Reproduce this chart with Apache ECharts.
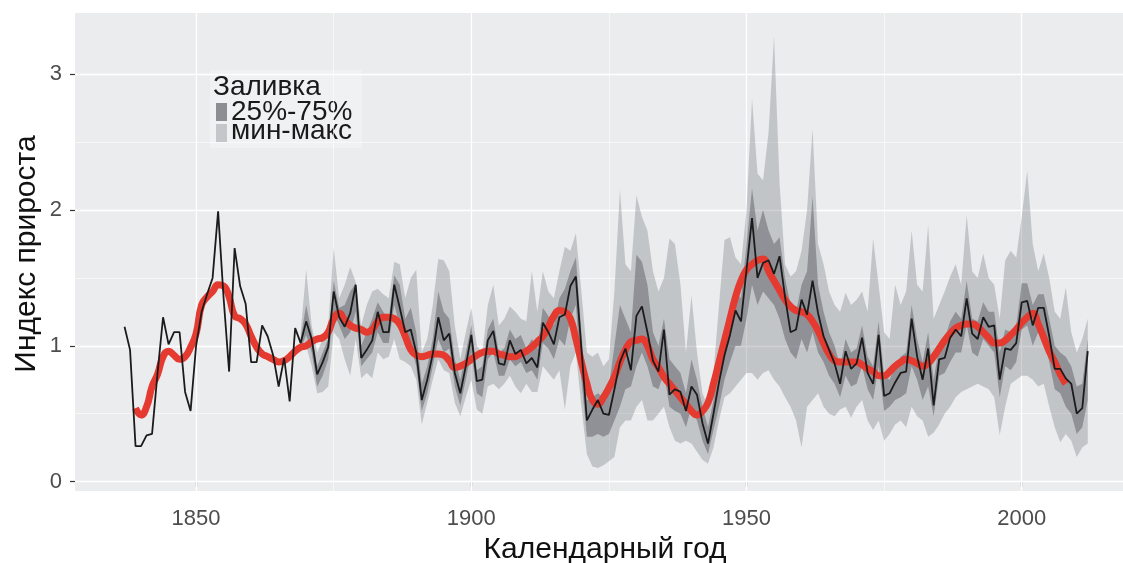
<!DOCTYPE html>
<html>
<head>
	<meta charset="utf-8">
	<title>Индекс прироста</title>
	<script src="https://cdn.jsdelivr.net/npm/echarts@6/dist/echarts.min.js"></script>
</head>
<body style="margin:0">
	<div id="main" style="width: 1123px;height: 563px"></div>
	<script type="text/javascript">
		// средний индекс прироста, 1837-2012
		var meanStart = 1837;
		var meanIdx = [
			1.14, 0.97, 0.26, 0.26, 0.34, 0.35, 0.80, 1.21, 1.01, 1.10,
			1.10, 0.66, 0.52, 1.00, 1.25, 1.38, 1.50, 1.99, 1.35, 0.81,
			1.72, 1.44, 1.31, 0.88, 0.88, 1.15, 1.07, 0.93, 0.70, 0.91,
			0.59, 1.13, 1.02, 1.18, 1.05, 0.79, 0.88, 0.99, 1.40, 1.21,
			1.14, 1.24, 1.45, 0.91, 0.97, 1.04, 1.25, 1.10, 1.10, 1.45,
			1.28, 1.10, 1.12, 0.95, 0.60, 0.75, 0.94, 1.21, 1.04, 1.09,
			0.80, 0.65, 0.85, 1.08, 0.74, 0.75, 1.04, 1.11, 0.87, 0.86,
			1.04, 0.94, 0.97, 0.87, 0.91, 0.84, 1.17, 1.10, 1.01, 1.21,
			1.23, 1.44, 1.51, 0.98, 0.45, 0.53, 0.60, 0.50, 0.49, 0.68,
			0.88, 0.98, 0.82, 1.22, 1.29, 1.10, 0.89, 0.81, 1.12, 0.64,
			0.68, 0.66, 0.52, 0.70, 0.64, 0.43, 0.28, 0.50, 0.73, 0.93,
			1.08, 1.26, 1.18, 1.56, 1.94, 1.50, 1.61, 1.63, 1.53, 1.66,
			1.36, 1.10, 1.12, 1.34, 1.23, 1.48, 1.24, 1.07, 0.97, 0.87,
			0.72, 0.96, 0.83, 0.87, 1.06, 0.80, 0.72, 1.08, 0.63, 0.65,
			0.73, 0.80, 0.81, 1.20, 0.92, 0.75, 0.98, 0.56, 0.90, 0.91,
			1.06, 1.12, 1.07, 1.35, 1.09, 1.05, 1.21, 1.14, 1.15, 0.75,
			0.98, 0.97, 1.02, 1.32, 1.33, 1.15, 1.28, 1.28, 1.07, 0.83,
			0.83, 0.76, 0.72, 0.50, 0.54, 0.96
		];
		// сглаженная кривая, 1839-2008
		var smoothStart = 1839;
		var smoothIdx = [
			0.54, 0.49, 0.55, 0.70, 0.79, 0.92, 0.96, 0.93, 0.90, 0.92,
			0.99, 1.09, 1.30, 1.36, 1.40, 1.45, 1.44, 1.36, 1.22, 1.20,
			1.16, 1.07, 0.99, 0.94, 0.92, 0.90, 0.88, 0.89, 0.92, 0.96,
			0.99, 1.00, 1.03, 1.05, 1.06, 1.10, 1.20, 1.24, 1.19, 1.15,
			1.13, 1.12, 1.10, 1.12, 1.18, 1.21, 1.21, 1.20, 1.16, 1.07,
			0.97, 0.93, 0.92, 0.93, 0.94, 0.94, 0.93, 0.89, 0.84, 0.85,
			0.87, 0.90, 0.93, 0.95, 0.96, 0.96, 0.94, 0.93, 0.92, 0.92,
			0.94, 0.96, 0.99, 1.03, 1.07, 1.14, 1.22, 1.26, 1.25, 1.20,
			1.05, 0.88, 0.72, 0.60, 0.57, 0.62, 0.69, 0.77, 0.88, 0.97,
			1.03, 1.04, 1.05, 1.00, 0.90, 0.84, 0.77, 0.72, 0.67, 0.62,
			0.57, 0.52, 0.49, 0.52, 0.58, 0.72, 0.88, 1.04, 1.20, 1.36,
			1.48, 1.56, 1.60, 1.63, 1.64, 1.55, 1.48, 1.41, 1.34, 1.29,
			1.26, 1.25, 1.23, 1.18, 1.11, 1.02, 0.94, 0.89, 0.88, 0.88,
			0.88, 0.88, 0.86, 0.83, 0.81, 0.78, 0.78, 0.81, 0.85, 0.88,
			0.90, 0.89, 0.87, 0.85, 0.87, 0.92, 0.98, 1.04, 1.09, 1.13,
			1.15, 1.16, 1.16, 1.14, 1.10, 1.06, 1.02, 1.02, 1.04, 1.08,
			1.12, 1.17, 1.21, 1.24, 1.16, 1.06, 0.96, 0.88, 0.79, 0.72
		];
		// разброс по деревьям, 1869-2012
		var bandStart = 1869;
		var bandMax = [
			1.10, 1.56, 1.15, 0.95, 1.05, 1.15, 1.72, 1.35, 1.45, 1.58,
			1.47, 1.15, 1.30, 1.40, 1.42, 1.38, 1.35, 1.62, 1.60, 1.35,
			1.50, 1.56, 0.95, 1.05, 1.30, 1.64, 1.63, 1.55, 1.15, 0.90,
			1.10, 1.28, 1.00, 0.95, 1.30, 1.45, 1.15, 1.20, 1.29, 1.25,
			1.20, 1.18, 1.55, 1.25, 1.55, 1.40, 1.35, 1.55, 1.73, 1.70,
			1.83, 1.40, 0.95, 0.92, 0.95, 0.85, 0.90, 1.40, 2.15, 1.60,
			1.55, 2.11, 1.95, 1.85, 1.55, 1.40, 1.50, 1.79, 1.75, 1.45,
			0.95, 1.37, 0.95, 0.65, 0.55, 0.80, 1.30, 1.78, 1.80, 1.65,
			1.60, 2.00, 2.82, 2.27, 2.22, 2.57, 3.28, 2.20, 1.60, 1.51,
			1.55, 1.70, 2.00, 2.60, 1.75, 1.60, 1.40, 1.30, 1.25, 1.39,
			1.30, 1.34, 1.40, 1.25, 1.79, 1.45, 1.10, 1.05, 1.45, 1.30,
			1.40, 1.85, 1.45, 1.40, 1.89, 1.20, 1.30, 1.40, 1.51, 1.60,
			1.45, 1.96, 1.55, 1.50, 1.68, 1.50, 1.45, 1.20, 1.63, 1.70,
			1.65, 1.95, 2.29, 1.75, 1.55, 1.68, 1.50, 1.25, 1.20, 1.43,
			1.10, 0.95, 1.05, 1.20
		];
		var bandQ75 = [
			1.06, 1.30, 1.10, 0.85, 0.95, 1.05, 1.48, 1.28, 1.30, 1.40,
			1.46, 1.00, 1.10, 1.20, 1.32, 1.25, 1.20, 1.52, 1.45, 1.20,
			1.28, 1.10, 0.72, 0.85, 1.05, 1.40, 1.25, 1.20, 0.90, 0.75,
			0.95, 1.15, 0.82, 0.85, 1.12, 1.20, 0.95, 0.98, 1.12, 1.05,
			1.08, 0.98, 1.05, 0.98, 1.28, 1.22, 1.15, 1.35, 1.42, 1.55,
			1.65, 1.10, 0.60, 0.62, 0.65, 0.62, 0.70, 1.00, 1.30, 1.20,
			1.10, 1.67, 1.62, 1.45, 1.10, 1.00, 1.20, 0.90, 0.85, 0.80,
			0.65, 0.90, 0.75, 0.55, 0.40, 0.60, 0.90, 1.10, 1.25, 1.40,
			1.35, 1.75, 2.16, 1.85, 2.00, 1.85, 1.75, 1.80, 1.50, 1.30,
			1.25, 1.45, 1.55, 2.10, 1.45, 1.25, 1.10, 1.00, 0.85, 1.05,
			0.95, 0.98, 1.15, 0.92, 0.85, 1.18, 0.78, 0.75, 0.85, 0.92,
			0.95, 1.30, 1.05, 0.88, 1.10, 0.75, 1.00, 1.05, 1.18, 1.25,
			1.20, 1.48, 1.20, 1.18, 1.32, 1.25, 1.25, 0.95, 1.12, 1.10,
			1.15, 1.46, 1.46, 1.30, 1.38, 1.38, 1.20, 1.00, 0.95, 0.92,
			0.85, 0.70, 0.72, 1.05
		];
		var bandQ25 = [
			0.98, 1.08, 0.95, 0.70, 0.78, 0.90, 1.25, 1.15, 1.05, 1.10,
			1.25, 0.85, 0.90, 0.95, 1.10, 1.02, 1.02, 1.30, 1.15, 1.00,
			1.00, 0.85, 0.52, 0.65, 0.85, 1.05, 0.95, 0.98, 0.70, 0.56,
			0.75, 0.95, 0.65, 0.62, 0.90, 0.95, 0.78, 0.78, 0.90, 0.85,
			0.88, 0.80, 0.82, 0.75, 1.02, 0.98, 0.90, 1.05, 1.00, 1.20,
			1.30, 0.75, 0.33, 0.33, 0.35, 0.33, 0.35, 0.45, 0.55, 0.68,
			0.70, 0.85, 0.95, 0.85, 0.70, 0.68, 0.80, 0.55, 0.52, 0.50,
			0.40, 0.55, 0.45, 0.30, 0.20, 0.38, 0.55, 0.75, 0.88, 1.00,
			1.00, 1.20, 1.45, 1.30, 1.40, 1.35, 1.30, 1.20, 1.05, 0.95,
			0.90, 1.05, 0.95, 1.10, 0.95, 0.88, 0.78, 0.72, 0.62, 0.78,
			0.70, 0.72, 0.85, 0.68, 0.60, 0.85, 0.52, 0.55, 0.60, 0.62,
			0.65, 0.85, 0.75, 0.60, 0.70, 0.48, 0.78, 0.80, 0.88, 0.95,
			0.95, 1.15, 0.95, 0.92, 1.05, 1.00, 0.95, 0.62, 0.85, 0.82,
			0.88, 1.12, 1.15, 1.00, 1.10, 1.05, 0.88, 0.68, 0.65, 0.55,
			0.50, 0.35, 0.40, 0.60
		];
		var bandMin = [
			0.95, 1.00, 0.85, 0.65, 0.66, 0.70, 1.10, 1.05, 0.90, 0.78,
			1.05, 0.76, 0.80, 0.76, 0.95, 0.90, 0.92, 1.05, 0.90, 0.88,
			0.85, 0.75, 0.42, 0.58, 0.75, 0.90, 0.82, 0.80, 0.58, 0.48,
			0.62, 0.75, 0.53, 0.50, 0.70, 0.72, 0.68, 0.72, 0.78, 0.70,
			0.65, 0.72, 0.66, 0.66, 0.85, 0.80, 0.75, 0.82, 0.53, 0.85,
			0.95, 0.55, 0.20, 0.11, 0.10, 0.12, 0.15, 0.18, 0.40, 0.45,
			0.45, 0.55, 0.60, 0.45, 0.45, 0.50, 0.55, 0.40, 0.30, 0.28,
			0.30, 0.28, 0.22, 0.16, 0.13, 0.25, 0.45, 0.62, 0.65, 0.70,
			0.75, 0.80, 0.80, 0.75, 0.80, 0.82, 0.75, 0.70, 0.62, 0.55,
			0.45, 0.25, 0.55, 0.60, 0.65, 0.55, 0.50, 0.48, 0.53, 0.55,
			0.47, 0.55, 0.60, 0.45, 0.38, 0.45, 0.30, 0.35, 0.42, 0.45,
			0.40, 0.55, 0.48, 0.45, 0.33, 0.36, 0.42, 0.50, 0.55, 0.62,
			0.66, 0.68, 0.70, 0.72, 0.70, 0.68, 0.62, 0.34, 0.55, 0.72,
			0.75, 0.78, 0.78, 0.75, 0.70, 0.72, 0.55, 0.40, 0.29, 0.35,
			0.30, 0.18, 0.25, 0.28
		];
		var xTicks = [1850, 1900, 1950, 2000];
		var xMinor = [1875, 1925, 1975];
		var yTicks = [0, 1, 2, 3];
		var yMinor = [0.5, 1.5, 2.5];

		var font = '"Liberation Sans", Arial, sans-serif';
		var lightFill = 'rgba(130,133,140,0.38)';
		var darkFill = 'rgba(85,88,95,0.47)';

		function pairs(start, vals) {
			return vals.map(function (v, i) { return [start + i, v]; });
		}
		function triples(start, lo, hi) {
			return lo.map(function (v, i) { return [start + i, v, hi[i]]; });
		}
		// полоса рисуется одним многоугольником: верх слева направо, низ обратно
		function bandRenderer(fill) {
			return function (params, api) {
				if (params.dataIndex !== 0) return;
				var data = params.context.rows;
				var top = [], bottom = [];
				for (var i = 0; i < data.length; i++) {
					top.push(api.coord([data[i][0], data[i][2]]));
					bottom.push(api.coord([data[i][0], data[i][1]]));
				}
				return {
					type: 'polygon',
					shape: {points: top.concat(bottom.reverse())},
					style: {fill: fill}
				};
			};
		}
		function bandSeries(name, rows, fill) {
			var render = bandRenderer(fill);
			return {
				name: name, type: 'custom', silent: true, z: 3,
				encode: {x: 0, y: [1, 2]},
				data: rows,
				renderItem: function (params, api) {
					params.context.rows = rows;
					return render(params, api);
				}
			};
		}

		var gridLines = [];
		xTicks.forEach(function (v) { gridLines.push({xAxis: v, lineStyle: {width: 1.3}}); });
		xMinor.forEach(function (v) { gridLines.push({xAxis: v, lineStyle: {width: 0.6}}); });
		yTicks.forEach(function (v) { gridLines.push({yAxis: v, lineStyle: {width: 1.3}}); });
		yMinor.forEach(function (v) { gridLines.push({yAxis: v, lineStyle: {width: 0.6}}); });

		var myChart = echarts.init(document.getElementById('main'));
		var option = {
			backgroundColor: '#ffffff',
			animation: false,
			grid: {
				left: 75, right: 0, top: 13, bottom: 72,
				show: true, backgroundColor: '#EBECEE', borderWidth: 0
			},
			xAxis: {
				type: 'value', min: 1828, max: 2018.4,
				axisLine: {show: false},
				splitLine: {show: false},
				axisTick: {show: true, customValues: xTicks, length: 5, lineStyle: {color: '#333', width: 1.2}},
				axisLabel: {
					customValues: xTicks, margin: 17, color: '#4d4d4d', fontSize: 22, fontFamily: font,
					formatter: function (v) { return String(v); }
				}
			},
			yAxis: {
				type: 'value', min: -0.07, max: 3.452,
				axisLine: {show: false},
				splitLine: {show: false},
				axisTick: {show: true, customValues: yTicks, length: 5, lineStyle: {color: '#333', width: 1.2}},
				axisLabel: {customValues: yTicks, margin: 13, color: '#4d4d4d', fontSize: 22, fontFamily: font}
			},
			graphic: [
				{type: 'text', x: 605, y: 550, style: {text: 'Календарный год', font: '30px ' + font, fill: '#111', align: 'center', verticalAlign: 'middle'}},
				{type: 'text', x: 27, y: 254, rotation: Math.PI / 2, style: {text: 'Индекс прироста', font: '30px ' + font, fill: '#111', align: 'center', verticalAlign: 'middle'}},
				{type: 'rect', shape: {x: 210, y: 70, width: 152, height: 78}, style: {fill: 'rgba(255,255,255,0.25)'}},
				{type: 'text', x: 213, y: 87, style: {text: 'Заливка', font: '28px ' + font, fill: '#1a1a1a', verticalAlign: 'middle'}},
				{type: 'rect', shape: {x: 216, y: 103, width: 11, height: 18}, style: {fill: '#8c8e93'}},
				{type: 'rect', shape: {x: 216, y: 124, width: 11, height: 18}, style: {fill: '#c4c6ca'}},
				{type: 'text', x: 231, y: 112, style: {text: '25%-75%', font: '28px ' + font, fill: '#1a1a1a', verticalAlign: 'middle'}},
				{type: 'text', x: 231, y: 131, style: {text: 'мин-макс', font: '28px ' + font, fill: '#1a1a1a', verticalAlign: 'middle'}}
			],
			series: [
				{
					name: 'grid', type: 'line', data: [], silent: true,
					markLine: {
						silent: true, symbol: 'none', z: 1,
						label: {show: false},
						lineStyle: {color: '#ffffff', type: 'solid'},
						data: gridLines
					}
				},
				bandSeries('мин-макс', triples(bandStart, bandMin, bandMax), lightFill),
				bandSeries('25%-75%', triples(bandStart, bandQ25, bandQ75), darkFill),
				{
					name: 'smooth', type: 'line', symbol: 'none', smooth: true, z: 4, silent: true,
					lineStyle: {color: '#e53a2f', width: 7},
					data: pairs(smoothStart, smoothIdx)
				},
				{
					name: 'mean', type: 'line', symbol: 'none', z: 5, silent: true,
					lineStyle: {color: '#1b1b1b', width: 1.8},
					data: pairs(meanStart, meanIdx)
				}
			]
		};
		myChart.setOption(option);
	</script>
</body>
</html>
